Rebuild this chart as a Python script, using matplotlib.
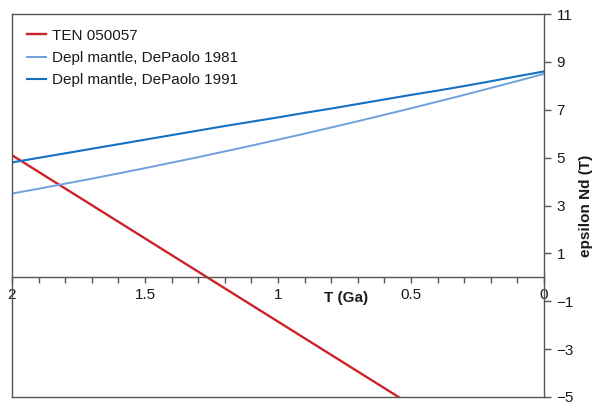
import matplotlib
matplotlib.use("Agg")
import matplotlib.pyplot as plt
from matplotlib.lines import Line2D

plt.rcParams['font.family'] = ['Liberation Sans', 'DejaVu Sans']

# Data
T_ten = [2.0, 0.0]
eps_ten = [5.1, -8.8]

T_dm = [2.0, 1.9, 1.8, 1.7, 1.6, 1.5, 1.4, 1.3, 1.2, 1.1, 1.0,
        0.9, 0.8, 0.7, 0.6, 0.5, 0.4, 0.3, 0.2, 0.1, 0.0]
eps_dm1981 = [3.50, 3.70, 3.91, 4.12, 4.34, 4.56, 4.79, 5.02, 5.26, 5.50, 5.75,
              6.00, 6.26, 6.52, 6.79, 7.06, 7.34, 7.62, 7.91, 8.20, 8.50]
eps_dm1991 = [4.80, 4.99, 5.18, 5.37, 5.56, 5.75, 5.94, 6.13, 6.32, 6.50, 6.68,
              6.87, 7.05, 7.24, 7.43, 7.62, 7.80, 7.99, 8.19, 8.40, 8.60]

labels = ['TEN 050057', 'Depl mantle, DePaolo 1981', 'Depl mantle, DePaolo 1991']
colors = ['#cc2229', '#6fa0dc', '#1470c0']

x_major = [2, 1.5, 1, 0.5, 0]
x_major_labels = ['2', '1.5', '1', '0.5', '0']
x_minor = [1.9, 1.8, 1.7, 1.6, 1.4, 1.3, 1.2, 1.1, 0.9, 0.8, 0.7, 0.6, 0.4, 0.3, 0.2, 0.1]
y_ticks = [-5, -3, -1, 1, 3, 5, 7, 9, 11]
y_labels = ['\u22125', '\u22123', '\u22121', '1', '3', '5', '7', '9', '11']

fig = plt.figure(figsize=(6.03, 4.08), dpi=100)
ax = fig.add_axes([12/603, 1 - 397/408, (544 - 12)/603, (397 - 14)/408])

ax.plot(T_ten, eps_ten, color=colors[0], lw=1.7, label=labels[0])
ax.plot(T_dm, eps_dm1981, color=colors[1], lw=1.4, label=labels[1])
ax.plot(T_dm, eps_dm1991, color=colors[2], lw=1.5, label=labels[2])

ax.set_xlim(2, 0)
ax.set_ylim(-5, 11)

spine_c = '#555555'
txt_c = '#1a1a1a'
for s in ax.spines.values():
    s.set_color(spine_c)
    s.set_linewidth(1.0)
ax.spines['bottom'].set_position(('data', 0))
ax.add_line(Line2D([0, 1], [0, 0], transform=ax.transAxes, color=spine_c,
                   lw=1.0, clip_on=False))

ax.set_xticks(x_major)
ax.set_xticklabels(x_major_labels, fontsize=11)
ax.set_xticks(x_minor, minor=True)
ax.tick_params(axis='x', which='both', direction='out', color=spine_c,
               length=4, width=1.0, pad=4, labelcolor=txt_c)

ax.yaxis.tick_right()
ax.yaxis.set_label_position('right')
ax.set_yticks(y_ticks)
ax.set_yticklabels(y_labels, fontsize=11)
ax.tick_params(axis='y', direction='out', color=spine_c, length=5, width=1.0,
               pad=4, labelcolor=txt_c)
ax.set_ylabel('epsilon Nd (T)', fontsize=11, fontweight='bold', labelpad=4,
              color=txt_c)

ax.text(0.745, -0.85, 'T (Ga)', fontsize=11, fontweight='bold',
        ha='center', va='center', transform=ax.transData, color=txt_c)

leg = ax.legend(loc='upper left', frameon=False, fontsize=11, handlelength=1.25,
                handletextpad=0.4, labelspacing=0.55, borderaxespad=0.55,
                bbox_to_anchor=(0.0, 1.0))
for t in leg.get_texts():
    t.set_color(txt_c)

fig.savefig('out.png', dpi=100)
